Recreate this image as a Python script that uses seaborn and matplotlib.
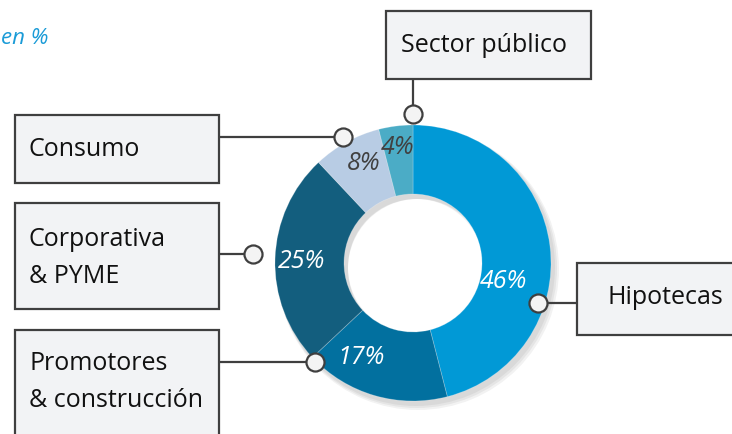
# Donut chart: cartera de crédito por segmento (en %)
import matplotlib.pyplot as plt
import matplotlib.patches as mpatches
import seaborn as sns

segmentos = ['Hipotecas', 'Promotores\n& construcción', 'Corporativa\n& PYME', 'Consumo', 'Sector público']
valores = [46, 17, 25, 8, 4]
colores = ['#0199D6', '#02709F', '#135E7E', '#B8CCE4', '#4BACC6']
color_pct = ['white', 'white', 'white', '#404040', '#404040']

sns.set_theme(style='white')
plt.rcParams['font.family'] = ['Open Sans', 'DejaVu Sans']

W, H = 732, 434
fig = plt.figure(figsize=(7.32, 4.34), dpi=100)
ax = fig.add_axes([0, 0, 1, 1])

def fy(y):
    # pixel y (desde arriba) -> coordenada del eje
    return H - y

cx, cy, R = 413, 263, 138

# sombra suave bajo el anillo
for k, a in enumerate([0.05, 0.05, 0.05]):
    ax.pie([1], radius=R + 1 + k, center=(cx + 3 + k, fy(cy) - 4 - k), colors=['#000000'],
           wedgeprops=dict(width=R / 2 + 2, alpha=a, linewidth=0))

wedges, _ = ax.pie(valores, startangle=90, counterclock=False, radius=R,
                   center=(cx, fy(cy)), colors=colores,
                   wedgeprops=dict(width=R / 2, linewidth=0.6, edgecolor='#FFFFFF40'))

# etiquetas de porcentaje
pos_pct = [(504, 282), (361, 358), (302, 262), (364, 163), (398, 148)]
for v, (x, y), c in zip(valores, pos_pct, color_pct):
    ax.text(x, fy(y), f'{v}%', ha='center', va='center', fontsize=18,
            style='italic', color=c)

# cajas de categoria: (x0, y0, x1, y1), texto x, texto y
cajas = {
    'Sector público': ((386, 11, 591, 79), 401, 45),
    'Consumo': ((15, 115, 219, 183), 29, 150),
    'Corporativa\n& PYME': ((15, 203, 219, 309), 29, 258),
    'Promotores\n& construcción': ((15, 330, 219, 440), 29, 382),
    'Hipotecas': ((577, 263, 740, 335), 607, 298),
}
for nombre, ((x0, y0, x1, y1), tx, ty) in cajas.items():
    ax.add_patch(mpatches.Rectangle((x0, fy(y1)), x1 - x0, y1 - y0, facecolor='#F2F3F5',
                                    edgecolor='#3F3F3F', linewidth=1.6, zorder=3))
    ax.text(tx, fy(ty), nombre, ha='left', va='center', fontsize=18, color='#111111',
            linespacing=1.6, zorder=4)

# conectores
conectores = [
    ((413, 79), (413, 114)),
    ((219, 137), (343, 137)),
    ((219, 254), (253, 254)),
    ((219, 362), (315, 362)),
    ((577, 303), (538, 303)),
]
for (x0, y0), (x1, y1) in conectores:
    ax.plot([x0, x1], [fy(y0), fy(y1)], color='#3F3F3F', linewidth=1.6, zorder=2)
    ax.plot(x1, fy(y1), marker='o', markersize=13, markerfacecolor='#F4F4F4',
            markeredgecolor='#3F3F3F', markeredgewidth=1.6, zorder=5)

ax.text(1, fy(38), 'en %', ha='left', va='center', fontsize=16, style='italic',
        color='#1A9BD7')

ax.set_xlim(0, W)
ax.set_ylim(0, H)
ax.set_aspect('equal')
ax.axis('off')

plt.savefig('out.png', dpi=100)
plt.close()
